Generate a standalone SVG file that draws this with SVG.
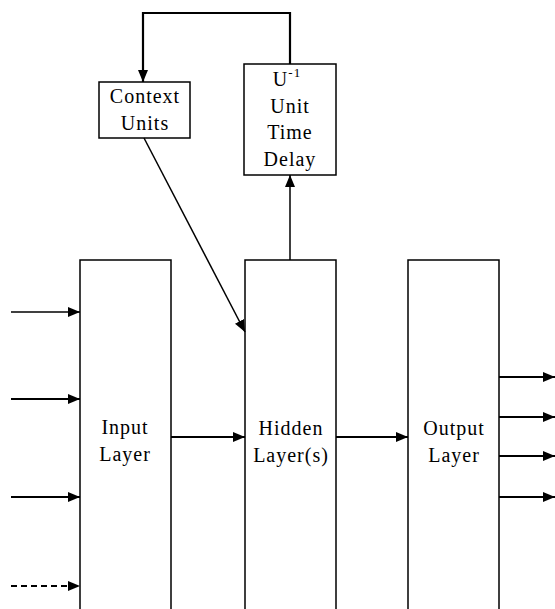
<svg xmlns="http://www.w3.org/2000/svg" width="555" height="609" viewBox="0 0 555 609">
<style>
.box{fill:#fff;stroke:#000;stroke-width:1.5}
.ln{fill:none;stroke:#000;stroke-width:1.5}
.thk{fill:none;stroke:#000;stroke-width:2.2}
text{font-family:"Liberation Serif","Times New Roman",serif;font-size:20px;letter-spacing:1px;fill:#000;text-anchor:middle}
</style>
<defs>
<marker id="ah" markerWidth="12" markerHeight="10" refX="12" refY="5" orient="auto" markerUnits="userSpaceOnUse">
<path d="M0,0 L12,5 L0,10 Z" fill="#000"/>
</marker>
</defs>
<rect width="555" height="609" fill="#fff"/>
<g id="input-layer">
<path class="box" d="M80,615 V260 H171 V615"/>
<text x="125" y="434">Input</text>
<text x="125" y="461">Layer</text>
</g>
<g id="hidden-layer">
<path class="box" d="M245,615 V260 H336 V615"/>
<text x="291" y="435" letter-spacing="2">Hidden</text>
<text x="291" y="462">Layer(s)</text>
</g>
<g id="output-layer">
<path class="box" d="M408,615 V260 H499 V615"/>
<text x="454" y="435">Output</text>
<text x="454" y="462">Layer</text>
</g>
<g id="context-units">
<rect class="box" x="99" y="82" width="91" height="56"/>
<text x="145" y="103">Context</text>
<text x="145" y="130">Units</text>
</g>
<g id="unit-delay">
<rect class="box" x="244" y="64" width="92" height="111"/>
<text x="287" y="86">U<tspan font-size="13" dy="-9">-1</tspan></text>
<text x="290" y="113">Unit</text>
<text x="290" y="139">Time</text>
<text x="290" y="166">Delay</text>
</g>
<g id="connectors">
<path class="thk" d="M290,64 V13 H143 V82" marker-end="url(#ah)"/>
<path class="ln" d="M290,260 V175" marker-end="url(#ah)"/>
<path class="ln" d="M144,138 L245,332" marker-end="url(#ah)"/>
<path class="ln" d="M11,312 H80" marker-end="url(#ah)"/>
<path class="thk" d="M11,399 H80" marker-end="url(#ah)"/>
<path class="thk" d="M11,497 H80" marker-end="url(#ah)"/>
<path class="thk" d="M11,586 H80" stroke-dasharray="6,4" marker-end="url(#ah)"/>
<path class="thk" d="M171,437 H245" marker-end="url(#ah)"/>
<path class="thk" d="M336,437 H408" marker-end="url(#ah)"/>
<path class="thk" d="M499,377 H555" marker-end="url(#ah)"/>
<path class="thk" d="M499,417 H555" marker-end="url(#ah)"/>
<path class="thk" d="M499,456 H555" marker-end="url(#ah)"/>
<path class="thk" d="M499,497 H555" marker-end="url(#ah)"/>
</g>
</svg>
